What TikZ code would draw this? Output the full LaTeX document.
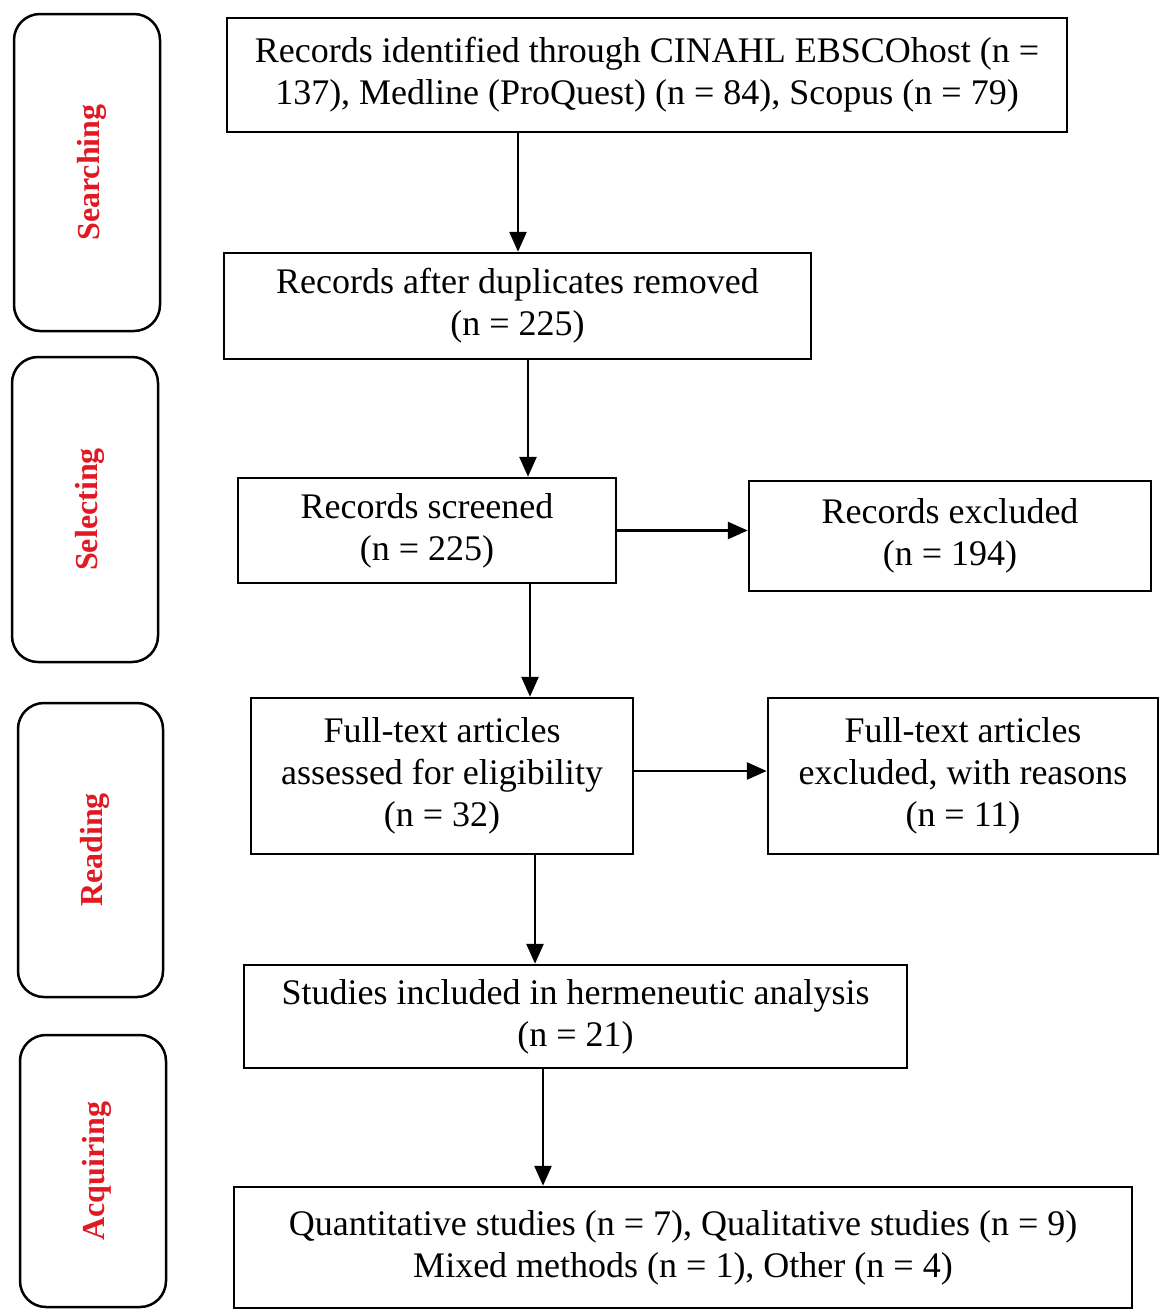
\documentclass[tikz,border=0pt]{standalone}
\usepackage{fontspec}
\setmainfont{Liberation Serif}
\usetikzlibrary{arrows.meta}
\definecolor{lblred}{RGB}{225,25,35}
\begin{document}
\begin{tikzpicture}[x=1pt,y=-1pt,
  box/.style={draw, line width=2.5pt, inner sep=0pt, align=center, font=\fontsize{36}{42}\selectfont},
  side/.style={draw, line width=2.5pt, rounded corners=26pt, inner sep=0pt},
  lbl/.style={rotate=90, text=lblred, font=\fontsize{32}{36}\selectfont\bfseries},
  arr/.style={line width=2.7pt, -{Triangle[length=20pt,width=17pt]}}]
\useasboundingbox (0,0) rectangle (1160,1312);
% side phase boxes
\node[side, minimum width=146pt, minimum height=317pt] (s1) at (87,172.5) {};
\node[lbl] (l1) at ([xshift=5pt]s1.center) {Searching};
\node[side, minimum width=146pt, minimum height=305pt] (s2) at (85,509.5) {};
\node[lbl] (l2) at ([xshift=5pt]s2.center) {Selecting};
\node[side, minimum width=145pt, minimum height=294pt] (s3) at (90.5,850) {};
\node[lbl] (l3) at ([xshift=4pt]s3.center) {Reading};
\node[side, minimum width=146pt, minimum height=272pt] (s4) at (93,1171) {};
\node[lbl] (l4) at ([xshift=4pt]s4.center) {Acquiring};
% flow boxes
\node[box, minimum width=840pt, minimum height=114pt] (rec) at (647,75) {Records identified through CINAHL EBSCOhost (n =\\137), Medline (ProQuest) (n = 84), Scopus (n = 79)};
\node[box, minimum width=587pt, minimum height=106pt] (dup) at (517.5,306) {Records after duplicates removed\\(n = 225)};
\node[box, minimum width=378pt, minimum height=105pt] (scr) at (427,530.5) {Records screened\\(n = 225)};
\node[box, minimum width=402pt, minimum height=110pt] (exc) at (950,536) {Records excluded\\(n = 194)};
\node[box, minimum width=382pt, minimum height=156pt] (full) at (442,776) {Full-text articles\\assessed for eligibility\\(n = 32)};
\node[box, minimum width=390pt, minimum height=156pt] (ftex) at (963,776) {Full-text articles\\excluded, with reasons\\(n = 11)};
\node[box, minimum width=663pt, minimum height=103pt] (inc) at (575.5,1016.5) {Studies included in hermeneutic analysis\\(n = 21)};
\node[box, minimum width=898pt, minimum height=121pt] (fin) at (683,1247.5) {Quantitative studies (n = 7), Qualitative studies (n = 9)\\Mixed methods (n = 1), Other (n = 4)};
% arrows
\draw[arr] ([xshift=-129pt]rec.south) -- ([xshift=-129pt]rec.south |- dup.north);
\draw[arr] ([xshift=10.5pt]dup.south) -- ([xshift=10.5pt]dup.south |- scr.north);
\draw[arr] (scr.east) -- (scr.east -| exc.west);
\draw[arr] ([xshift=103pt]scr.south) -- ([xshift=103pt]scr.south |- full.north);
\draw[arr] ([yshift=5pt]full.east) -- ([yshift=5pt]full.east -| ftex.west);
\draw[arr] ([xshift=93pt]full.south) -- ([xshift=93pt]full.south |- inc.north);
\draw[arr] ([xshift=-32.5pt]inc.south) -- ([xshift=-32.5pt]inc.south |- fin.north);
\end{tikzpicture}
\end{document}
